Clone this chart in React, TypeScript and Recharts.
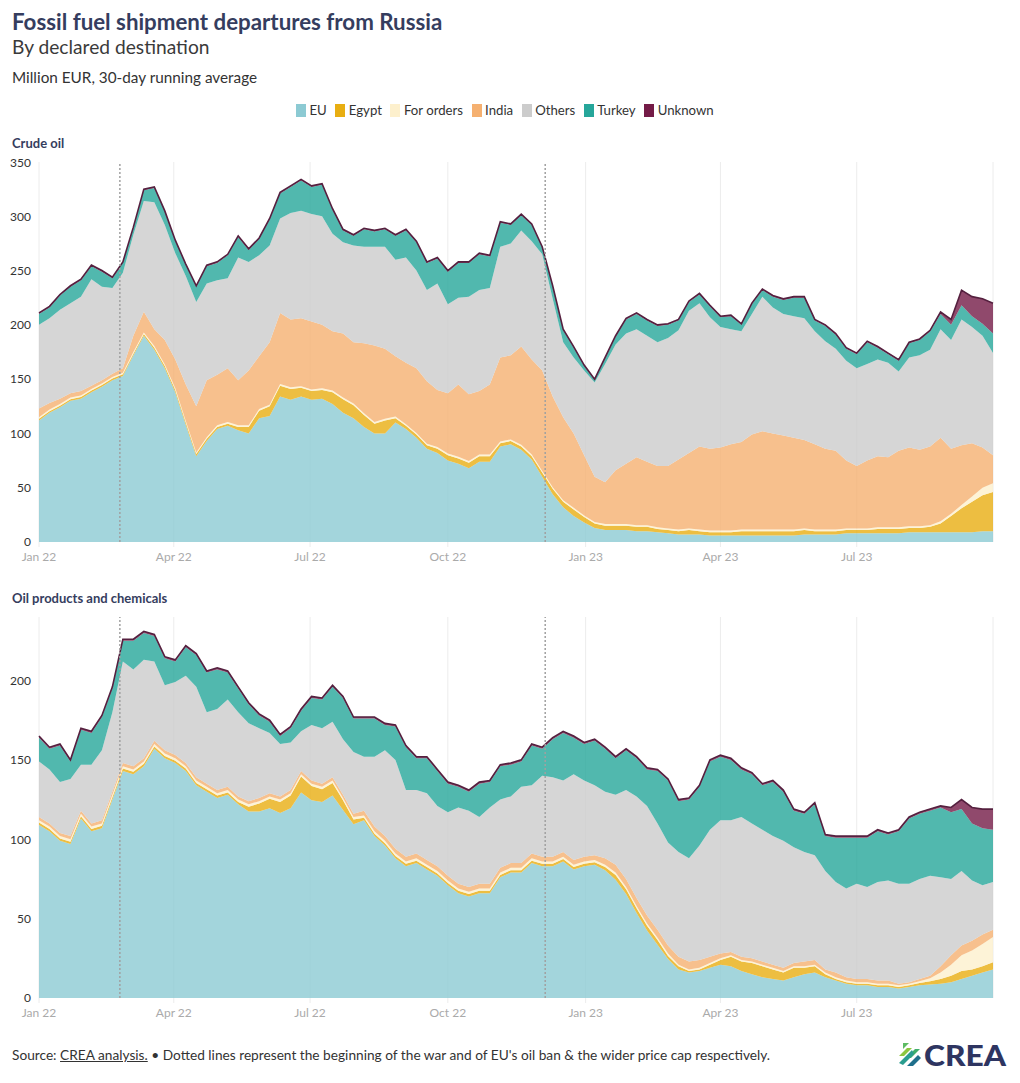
import React from "react";
import {
  AreaChart, Area, XAxis, YAxis, CartesianGrid, ReferenceLine,
} from "recharts";

// weekly samples, days since 1 Jan 2022
const DAYS = Array.from({ length: 92 }, (_, i) => i * 7);

const TICK_DAYS = [0, 90, 181, 273, 365, 455, 546];
const TICK_LABELS = ["Jan 22", "Apr 22", "Jul 22", "Oct 22", "Jan 23", "Apr 23", "Jul 23"];

// war start (24 Feb 22), EU oil ban (5 Dec 22)
const EVENT_DAYS = [54, 338];

// ---- Crude oil, million EUR ----
const CRUDE_EU = [
  112, 119, 124, 130, 132, 138, 143, 149, 153, 172,
  190, 177, 160, 138, 108, 79, 93, 104, 107, 103,
  100, 114, 116, 134, 131, 134, 131, 132, 127, 119,
  114, 106, 100, 100, 110, 104, 96, 86, 82, 75,
  72, 68, 74, 74, 88, 90, 85, 76, 60, 44,
  32, 24, 18, 13, 11, 11, 11, 10, 10, 9,
  8, 7, 7, 7, 6, 6, 6, 6, 6, 6,
  6, 6, 6, 7, 7, 7, 7, 8, 8, 8,
  8, 8, 8, 9, 9, 9, 9, 9, 9, 9,
  10, 10,
];
const CRUDE_EGYPT = [
  1.5, 1.5, 1.5, 1.5, 1.5, 1.5, 1.5, 1.5, 1.5, 1.5,
  1.5, 2, 2, 2, 2, 2, 2, 2, 2, 3,
  6, 7, 9, 10, 10, 8, 8, 8, 11, 12.5,
  12, 11, 9, 12, 4, 3, 3, 3, 4, 5,
  5, 5, 5, 5, 3, 3, 3, 3, 4, 5,
  5, 6, 5, 4, 4, 4, 4, 4, 4, 3,
  3, 3, 4, 3, 3, 3, 3, 4, 4, 4,
  4, 4, 4, 4, 3, 3, 3, 3, 3, 3,
  4, 4, 4, 4, 4, 5, 8, 15, 22, 28,
  33, 36,
];
const CRUDE_FOR_ORDERS = [
  1.5, 1.5, 1.5, 1.5, 1.5, 1.5, 1.5, 1.5, 1.5, 1.5,
  1.5, 1.5, 1.5, 1.5, 1.5, 1.5, 1.5, 1.5, 1.5, 1.5,
  1.5, 1.5, 1.5, 1.5, 1.5, 1.5, 1.5, 1.5, 1.5, 1.5,
  1.5, 1.5, 1.5, 1.5, 1.5, 1.5, 1.5, 1.5, 1.5, 1.5,
  1.5, 1.5, 1.5, 1.5, 1.5, 1.5, 1.5, 1.5, 1.5, 1.5,
  1.5, 1.5, 1.5, 1.5, 1.5, 1.5, 1.5, 1.5, 1.5, 1.5,
  1.5, 1.5, 1.5, 1.5, 1.5, 1.5, 1.5, 1.5, 1.5, 1.5,
  1.5, 1.5, 1.5, 1.5, 1.5, 1.5, 1.5, 1.5, 1.5, 1.5,
  1.5, 1.5, 1.5, 1.5, 1.5, 1.5, 2, 2, 3, 5,
  7, 8,
];
const CRUDE_INDIA = [
  8, 6, 5, 4, 4, 3, 3, 3, 4, 15,
  19, 15.5, 22.5, 26.5, 33.5, 42.5, 52.5, 46.5, 49.5, 41.5,
  50.5, 48.5, 57.5, 65.5, 62.5, 62.5, 62.5, 58.5, 54.5, 59,
  56.5, 64.5, 70.5, 64.5, 55.5, 56.5, 59.5, 57.5, 52.5, 55.5,
  66.5, 61.5, 58.5, 64.5, 77.5, 77.5, 90.5, 87.5, 92.5, 83.5,
  76.5, 68.5, 55.5, 41.5, 38.5, 49.5, 55.5, 62.5, 58.5, 56.5,
  57.5, 64.5, 69.5, 76.5, 75.5, 76.5, 79.5, 80.5, 87.5, 90.5,
  88.5, 86.5, 84.5, 81.5, 78.5, 74.5, 72.5, 62.5, 57.5, 62.5,
  65.5, 64.5, 70.5, 72.5, 70.5, 72.5, 77, 60, 55, 49,
  37, 26,
];
const CRUDE_OTHERS = [
  77, 78, 82, 83, 87, 98, 86, 79, 88, 93,
  102, 117, 106, 98, 100, 96, 89, 87, 83, 113,
  100, 93, 89, 87, 98, 99, 99, 100, 90, 84,
  89, 89, 91, 94, 89, 97, 90, 84, 98, 82,
  80, 90, 93, 89, 102, 103, 107, 109, 107, 90,
  69, 70, 78, 87, 109, 116, 120, 118, 116, 114,
  118, 119, 131, 132, 121, 111, 106, 102, 111, 124,
  116, 112, 112, 112, 104, 99, 94, 92, 90, 89,
  89, 87, 73, 83, 87, 89, 100, 100, 116, 107,
  103, 94,
];
const CRUDE_TURKEY = [
  10, 10, 13, 15, 15, 12, 14, 9, 9, 6,
  10, 13, 12, 11, 10, 14, 16, 16, 21, 19,
  11, 15, 24, 23, 24, 28, 25, 29, 22, 11,
  9, 16, 14, 16, 22, 25, 26, 25, 23, 30,
  32, 31, 33, 29, 22, 17, 14, 15, 6, 11,
  11, 9, 4, 2, 5, 7, 13, 14, 14, 15,
  12, 9, 8, 8, 10, 9, 12, 6, 9, 6,
  10, 13, 17, 19, 10, 14, 13, 11, 13, 20,
  11, 8, 10, 13, 14, 17, 14, 14, 13, 10,
  11, 18,
];
const CRUDE_UNKNOWN = [
  1, 1, 1, 1, 1, 1, 1, 1, 1, 1,
  1, 1, 1, 1, 1, 1, 1, 1, 1, 1,
  1, 1, 1, 1, 1, 1, 1, 1, 1, 1,
  1, 1, 1, 1, 1, 1, 1, 1, 1, 1,
  1, 1, 1, 1, 1, 1, 1, 1, 1, 1,
  1, 1, 1, 1, 1, 1, 1, 1, 1, 1,
  1, 1, 1, 1, 1, 1, 1, 1, 1, 1,
  1, 1, 1, 1, 1, 1, 1, 1, 1, 1,
  1, 1, 1, 1, 1, 1, 2, 5, 14, 18,
  23, 28,
];

// ---- Oil products and chemicals, million EUR ----
const PROD_EU = [
  109, 105, 99, 97, 113, 105, 107, 125, 143, 141,
  146, 157, 151, 148, 143, 134, 130, 126, 128, 122,
  117.5, 117.5, 119.5, 116.5, 119.5, 129.5, 124.5, 123.5, 127.5, 118.5,
  109.5, 112, 102, 96, 88, 83, 85, 81, 77, 71,
  66, 64, 66, 66, 76, 79, 79, 85, 83, 83,
  86, 81, 83, 84, 80.5, 74.5, 65.5, 53.5, 42.5, 33.5,
  24.5, 18, 16, 17, 19, 21, 20, 17, 15, 13,
  12, 11, 13, 15, 16, 13, 11, 9, 8, 8,
  7, 7, 6, 7, 8, 8.5, 9, 10, 12, 14,
  16, 18,
];
const PROD_EGYPT = [
  1.5, 1.5, 1.5, 1.5, 1.5, 1.5, 1.5, 1.5, 1.5, 1.5,
  1.5, 1.5, 1.5, 1.5, 1.5, 1.5, 1.5, 1.5, 1.5, 1.5,
  3, 5, 6, 7, 8, 10, 9, 8, 8, 6,
  3, 1.5, 1.5, 1.5, 1.5, 1.5, 1.5, 1.5, 1.5, 1.5,
  1.5, 1.5, 1.5, 1.5, 1.5, 1.5, 1.5, 1.5, 1.5, 1.5,
  1.5, 1.5, 1.5, 1.5, 2, 3, 3, 3, 3, 3,
  2, 2, 1, 1, 2, 3, 6, 6, 7, 7,
  6, 5, 6, 4, 4, 2, 1, 1, 1, 1,
  1, 1, 1, 1, 1.5, 2, 3, 4, 5, 4,
  4, 4.5,
];
const PROD_FOR_ORDERS = [
  1.5, 1.5, 1.5, 1.5, 1.5, 1.5, 1.5, 1.5, 1.5, 1.5,
  1.5, 1.5, 1.5, 1.5, 1.5, 1.5, 1.5, 1.5, 1.5, 1.5,
  1.5, 1.5, 1.5, 1.5, 1.5, 1.5, 1.5, 1.5, 1.5, 1.5,
  1.5, 1.5, 1.5, 1.5, 1.5, 1.5, 1.5, 1.5, 1.5, 1.5,
  1.5, 1.5, 1.5, 1.5, 1.5, 1.5, 1.5, 1.5, 1.5, 1.5,
  1.5, 1.5, 1.5, 1.5, 1.5, 1.5, 1.5, 1.5, 1.5, 1.5,
  1.5, 1, 1, 1, 1, 1, 1, 1, 1, 1,
  1, 1, 1, 1, 1, 1, 1, 1, 1, 1,
  1, 1, 1, 1, 1, 2, 4, 7, 10, 12,
  14, 16,
];
const PROD_INDIA = [
  2, 2, 2, 2, 2, 2, 2, 2, 2, 2,
  2, 2, 2, 2, 2, 2, 2, 2, 2, 2,
  2, 2, 2, 2, 2, 2, 2, 2, 2, 2,
  2, 3, 3, 3, 3, 3, 3, 3, 3, 3,
  3, 3, 3, 3, 3, 3, 3, 3, 3, 3,
  3, 3, 3, 3, 4, 5, 5, 5, 5, 5,
  5, 5, 5, 5, 4, 3, 2, 2, 2, 2,
  2, 2, 2, 3, 3, 2, 3, 2, 2, 2,
  2, 2, 1, 1, 1.5, 1.5, 4, 6, 6, 6,
  6, 4.5,
];
const PROD_OTHERS = [
  35, 34, 32, 36, 29, 37, 44, 50, 64, 61,
  62, 50, 41, 46, 55, 57, 45, 51, 55, 53,
  49, 44, 38, 33, 30, 25, 35, 35, 35, 35,
  39, 34, 44, 54, 56, 42, 40, 42, 38, 40,
  48, 48, 42, 48, 43, 42, 48, 43, 51, 50,
  45, 54, 48, 44, 42, 44, 56, 64, 69, 67,
  65, 66, 65, 72, 80, 84, 83, 88, 85, 83,
  81, 80, 73, 69, 66, 62, 57, 56, 60, 58,
  62, 63, 63, 62, 63, 63, 56, 48, 47, 38,
  31, 30,
];
const PROD_TURKEY = [
  15, 13, 23, 11, 22, 20, 21, 15, 13, 18,
  17, 16, 17, 13, 18, 20, 25, 25, 17, 15,
  12, 8, 7, 5, 9, 13, 17, 18, 22, 26,
  21, 24, 24, 16, 21, 27, 20, 22, 22, 18,
  13, 12, 21, 16, 21, 20, 16, 25, 17, 24,
  30, 23, 23, 28, 27, 23, 25, 24, 23, 33,
  39, 32, 37, 37, 43, 40, 38, 30, 31, 28,
  34, 31, 23, 24, 32, 22, 28, 32, 29, 31,
  32, 29, 33, 41, 41, 41, 44, 42, 39, 36,
  36, 33,
];
const PROD_UNKNOWN = [
  1, 1, 1, 1, 1, 1, 1, 1, 1, 1,
  1, 1, 1, 1, 1, 1, 1, 1, 1, 1,
  1, 1, 1, 1, 1, 1, 1, 1, 1, 1,
  1, 1, 1, 1, 1, 1, 1, 1, 1, 1,
  1, 1, 1, 1, 1, 1, 1, 1, 1, 1,
  1, 1, 1, 1, 1, 1, 1, 1, 1, 1,
  1, 1, 1, 1, 1, 1, 1, 1, 1, 1,
  1, 1, 1, 1, 1, 1, 1, 1, 1, 1,
  1, 1, 1, 1, 1, 1, 1, 3, 6, 10,
  12, 13,
];

const SERIES = [
  { key: "eu", name: "EU", color: "#8ccad3" },
  { key: "egypt", name: "Egypt", color: "#e8ae12" },
  { key: "forOrders", name: "For orders", color: "#fdf0cd" },
  { key: "india", name: "India", color: "#f5b070" },
  { key: "others", name: "Others", color: "#cccccc" },
  { key: "turkey", name: "Turkey", color: "#26a69a" },
  { key: "unknown", name: "Unknown", color: "#741b47" },
];

const NAVY = "#353d5e";
const FONT = "Lato, 'Open Sans', sans-serif";

function buildRows(cols: number[][]) {
  return DAYS.map((day, i) => ({
    day,
    eu: cols[0][i],
    egypt: cols[1][i],
    forOrders: cols[2][i],
    india: cols[3][i],
    others: cols[4][i],
    turkey: cols[5][i],
    unknown: cols[6][i],
  }));
}

const crudeRows = buildRows([
  CRUDE_EU, CRUDE_EGYPT, CRUDE_FOR_ORDERS, CRUDE_INDIA, CRUDE_OTHERS, CRUDE_TURKEY, CRUDE_UNKNOWN,
]);
const prodRows = buildRows([
  PROD_EU, PROD_EGYPT, PROD_FOR_ORDERS, PROD_INDIA, PROD_OTHERS, PROD_TURKEY, PROD_UNKNOWN,
]);

function fmtTick(d: number) {
  const i = TICK_DAYS.indexOf(d);
  return i >= 0 ? TICK_LABELS[i] : "";
}

function StackChart({ rows, max, ticks, plotHeight }:
  { rows: any[]; max: number; ticks: number[]; plotHeight: number }) {
  return (
    <AreaChart width={1020} height={plotHeight + 30} data={rows}
      margin={{ top: 7, right: 27, bottom: 0, left: 0 }}>
      <CartesianGrid horizontal={false} stroke="#ececec" />
      <XAxis
        dataKey="day" type="number" domain={[0, 637]} ticks={TICK_DAYS}
        tickFormatter={fmtTick} height={23}
        axisLine={false} tickLine={{ stroke: "#ececec" }} tickSize={5} tickMargin={5}
        tick={{ fontSize: 12, fill: "#aaaaaa", fontFamily: FONT }}
      />
      <YAxis
        domain={[0, max]} ticks={ticks} width={39} allowDataOverflow
        axisLine={false} tickLine={false}
        tick={{ fontSize: 12, fill: "#333333", fontFamily: FONT }}
      />
      {SERIES.map(s => (
        <Area
          key={s.key} dataKey={s.key} name={s.name} stackId="1" type="linear"
          fill={s.color} fillOpacity={0.8}
          stroke={s.key === "unknown" ? "#55203f" : "none"}
          strokeWidth={s.key === "unknown" ? 1.6 : 0}
          isAnimationActive={false} dot={false} activeDot={false}
        />
      ))}
      {EVENT_DAYS.map(d => (
        <ReferenceLine key={d} x={d} stroke="#a0a0a0" strokeWidth={1.5} strokeDasharray="2 2" />
      ))}
    </AreaChart>
  );
}

function Logo() {
  return (
    <svg width={118} height={34} viewBox="0 0 118 34">
      <g transform="translate(3,5)">
        <polygon points="0,13 8,5 13,5 5,13" fill="#8cc63f" />
        <polygon points="7,15 16,6 21,6 12,15" fill="#3fae6a" />
        <polygon points="0,20 13,7 15,11 4,22" fill="#2a9d8f" />
        <polygon points="8,23 19,12 22,15 14,23" fill="#1f6f8b" />
        <polygon points="4,0 10,0 4,6" fill="#5dbb63" />
      </g>
      <text x={28} y={28} fontFamily={FONT} fontWeight={900} fontSize={29} fill="#2e3561"
        textLength={82} lengthAdjust="spacingAndGlyphs">CREA</text>
    </svg>
  );
}

export default function App() {
  return (
    <div style={{ position: "relative", width: 1020, height: 1083, background: "#fff",
      fontFamily: FONT, color: "#333", overflow: "hidden" }}>
      <style>{`body{margin:0}`}</style>

      <div style={{ position: "absolute", left: 12, top: 8, fontSize: 22.3, fontWeight: 700,
        color: NAVY, whiteSpace: "nowrap" }}>
        Fossil fuel shipment departures from Russia
      </div>
      <div style={{ position: "absolute", left: 12, top: 35, fontSize: 19.2, color: "#3a3a3a" }}>
        By declared destination
      </div>
      <div style={{ position: "absolute", left: 12, top: 68, fontSize: 15.3, color: "#333" }}>
        Million EUR, 30-day running average
      </div>

      {/* Legend */}
      <div style={{ position: "absolute", left: 296, top: 102, display: "flex", gap: 8.5,
        fontSize: 13.2, color: "#333", alignItems: "center" }}>
        {SERIES.map(s => (
          <div key={s.key} style={{ display: "flex", alignItems: "center", gap: 3.5 }}>
            <span style={{ display: "inline-block", width: 10, height: 13, background: s.color }} />
            <span>{s.name}</span>
          </div>
        ))}
      </div>

      <div style={{ position: "absolute", left: 12, top: 135, fontSize: 13, fontWeight: 700, color: NAVY }}>
        Crude oil
      </div>
      <div style={{ position: "absolute", left: 0, top: 155 }}>
        <StackChart rows={crudeRows} max={350} ticks={[0, 50, 100, 150, 200, 250, 300, 350]} plotHeight={380} />
      </div>

      <div style={{ position: "absolute", left: 12, top: 590, fontSize: 13, fontWeight: 700, color: NAVY }}>
        Oil products and chemicals
      </div>
      <div style={{ position: "absolute", left: 0, top: 610 }}>
        <StackChart rows={prodRows} max={240} ticks={[0, 50, 100, 150, 200]} plotHeight={381} />
      </div>

      <div style={{ position: "absolute", left: 12, top: 1046, fontSize: 13.7, color: "#333", whiteSpace: "nowrap" }}>
        Source: <span style={{ textDecoration: "underline" }}>CREA analysis.</span> • Dotted lines represent the
        beginning of the war and of EU's oil ban &amp; the wider price cap respectively.
      </div>
      <div style={{ position: "absolute", left: 896, top: 1038 }}>
        <Logo />
      </div>
    </div>
  );
}
